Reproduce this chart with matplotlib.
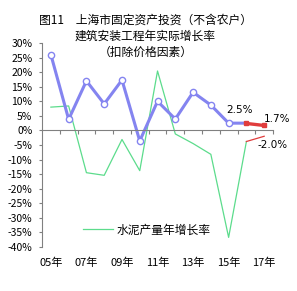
import matplotlib
matplotlib.use("Agg")
import matplotlib.pyplot as plt
import numpy as np

plt.rcParams["font.family"] = ["Noto Sans CJK SC", "DejaVu Sans"]
plt.rcParams["axes.unicode_minus"] = False

# 数据
years = list(range(2005, 2018))
invest = [26.0, 3.8, 17.0, 9.1, 17.3, -3.6, 10.0, 3.9, 13.1, 8.7, 2.5, 2.5]   # 05-16年
invest_fc = [2.4, 1.7]          # 16-17年（红色）
cement = [8.0, 8.4, -14.5, -15.4, -3.1, -13.8, 20.4, -1.2, -4.5, -8.2, -36.7, -3.8]  # 05-16年
cement_fc = [-3.8, -2.0]        # 16-17年（红色细线）
xlabels = ["05年", "07年", "09年", "11年", "13年", "15年", "17年"]

fig = plt.figure(figsize=(2.97, 2.91), dpi=100)
ax = fig.add_axes([0.1414, 0.1512, 0.778, 0.701])

blue = "#8484F0"
green = "#5CDC8C"
red = "#E03C3C"

ax.plot(years[:12], cement, color=green, lw=0.9, label="水泥产量年增长率")
ax.plot(years[11:], cement_fc, color=red, lw=0.9)
ax.plot(years[:12], invest, color=blue, lw=2.2, marker="o", ms=4.5,
        mfc="white", mec=blue, mew=1.0, markevery=list(range(11)))
ax.plot(years[11:], invest_fc, color=red, lw=2.4, marker="s", ms=2.5)

ax.text(2014.85, 7.0, "2.5%", fontsize=7.5, ha="left", va="center",
        family="DejaVu Sans")
ax.text(2017.0, 3.9, "1.7%", fontsize=7.5, ha="left", va="center",
        family="DejaVu Sans")
ax.text(2016.65, -5.0, "-2.0%", fontsize=7.5, ha="left", va="center",
        family="DejaVu Sans")

ax.set_xlim(2004.5, 2017.5)
ax.set_ylim(-40, 30)

# 坐标轴
for s in ["top", "right"]:
    ax.spines[s].set_visible(False)
ax.spines["left"].set_color("#808080")
ax.spines["bottom"].set_color("#808080")
ax.spines["bottom"].set_position(("data", 0))

ax.set_yticks(np.arange(-40, 31, 5))
ax.set_yticklabels(["%d%%" % v for v in range(-40, 31, 5)], fontsize=7.5)
ax.tick_params(axis="y", direction="out", length=2.5, width=0.8,
               color="#808080", pad=4.5)

ax.set_xticks(np.arange(2005.5, 2017.6, 1))
ax.set_xticklabels([])
ax.tick_params(axis="x", direction="out", length=3, width=0.8, color="#808080")

sec = ax.secondary_xaxis("bottom")
sec.spines["bottom"].set_visible(False)
sec.set_xticks(years[::2])
sec.set_xticklabels(xlabels, fontsize=8)
sec.tick_params(length=0, pad=8)

leg = ax.legend(loc="lower left", bbox_to_anchor=(0.13, 0.0), frameon=False,
                fontsize=8.5, handlelength=2.6, handletextpad=0.3)

fig.text(0.49, 0.876, "图11　上海市固定资产投资（不含农户）\n建筑安装工程年实际增长率\n（扣除价格因素）",
         ha="center", va="center", fontsize=8.5, linespacing=1.3)

fig.savefig("out.png", dpi=100)
